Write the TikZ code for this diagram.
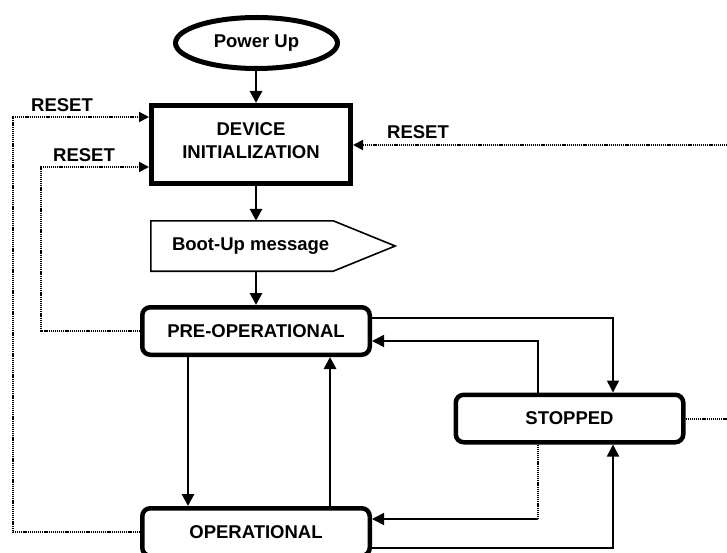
\documentclass[tikz,border=0pt]{standalone}
\usepackage{fontspec}
\setmainfont{Liberation Sans}
\usetikzlibrary{arrows.meta,shapes.geometric}
\begin{document}
\begin{tikzpicture}[x=1pt,y=-1pt,
  lbl/.style={font=\fontsize{18.5}{23}\selectfont\bfseries, inner sep=0pt},
  statebox/.style={lbl, draw, line width=4.5pt, rounded corners=8pt,
    minimum width=227.5pt, minimum height=47.5pt, fill=white},
  mainarrow/.style={line width=2.8pt, -{Triangle[length=12pt,width=12pt]}},
  thinarrow/.style={line width=1.6pt, -{Triangle[length=12pt,width=12pt]}},
  resetline/.style={line width=2pt, dash pattern=on 1.2pt off 0.9pt},
  resetarrow/.style={resetline, -{Triangle[length=10pt,width=10pt]}},
]
\useasboundingbox (0,0) rectangle (727,553);
\clip (0,0) rectangle (727,553);

% states
\node[lbl, draw, ellipse, line width=5pt, minimum width=162pt, minimum height=51pt]
  (power) at (256.5,43) {Power Up};
\node[draw, line width=5pt, minimum width=199pt, minimum height=78pt, inner sep=0pt]
  (device) at (251,144.5) {};
\node[lbl, align=center] (devicetext) at (251,140.5) {DEVICE\\INITIALIZATION};
\node[minimum width=244pt, minimum height=50pt, inner sep=0pt] (boot) at (273,246) {};
\draw[line width=1.6pt] (boot.north west) -- ([xshift=-62pt]boot.north east) -- (boot.east)
  -- ([xshift=-62pt]boot.south east) -- (boot.south west) -- cycle;
\node[lbl, anchor=west] (boottext) at ([xshift=21pt]boot.west) {Boot-Up message};
\node[statebox] (preop) at (256,331) {PRE-OPERATIONAL};
\node[statebox] (op) at (256,532) {OPERATIONAL};
\node[statebox] (stopped) at (569.5,418.5) {STOPPED};

% corner points of the connectors
\coordinate (o1) at (13,117);
\coordinate (i1) at (41,167);
\coordinate (r1) at (745,145);
\coordinate (s1) at (538,519);
\coordinate (s2) at (538,341);
\coordinate (s3) at (613,318);
\coordinate (s4) at (613,548);
\coordinate (dn) at (188,0);
\coordinate (up) at (330,0);
\coordinate (mid) at (256,0);

% main sequence
\draw[mainarrow] (power.south -| mid) -- (device.north -| mid);
\draw[mainarrow] (device.south -| mid) -- (boot.north -| mid);
\draw[mainarrow] (boot.south -| mid) -- (preop.north -| mid);
\draw[mainarrow] (preop.south -| dn) -- (op.north -| dn);
\draw[mainarrow] (op.north -| up) -- (preop.south -| up);

% transitions to and from STOPPED
\draw[thinarrow] (preop.east |- s3) -| (stopped.north -| s3);
\draw[thinarrow] (stopped.north -| s2) |- (preop.east |- s2);
\draw[resetline] (stopped.south -| s1) -- (s1);
\draw[thinarrow] (s1) -- (op.east |- s1);
\draw[thinarrow] (op.east |- s4) -| (stopped.south -| s4);

% reset paths
\draw[resetarrow] (op.west |- 0,532) -| (o1) -- (device.west |- o1);
\draw[resetarrow] (preop.west) -| (i1) -- (device.west |- i1);
\draw[resetarrow] (stopped.east) -| (r1) -- (device.east |- r1);

% labels
\node[lbl] (rst1) at (62,105) {RESET};
\node[lbl] (rst2) at (84,155) {RESET};
\node[lbl] (rst3) at (418,132) {RESET};
\end{tikzpicture}
\end{document}
